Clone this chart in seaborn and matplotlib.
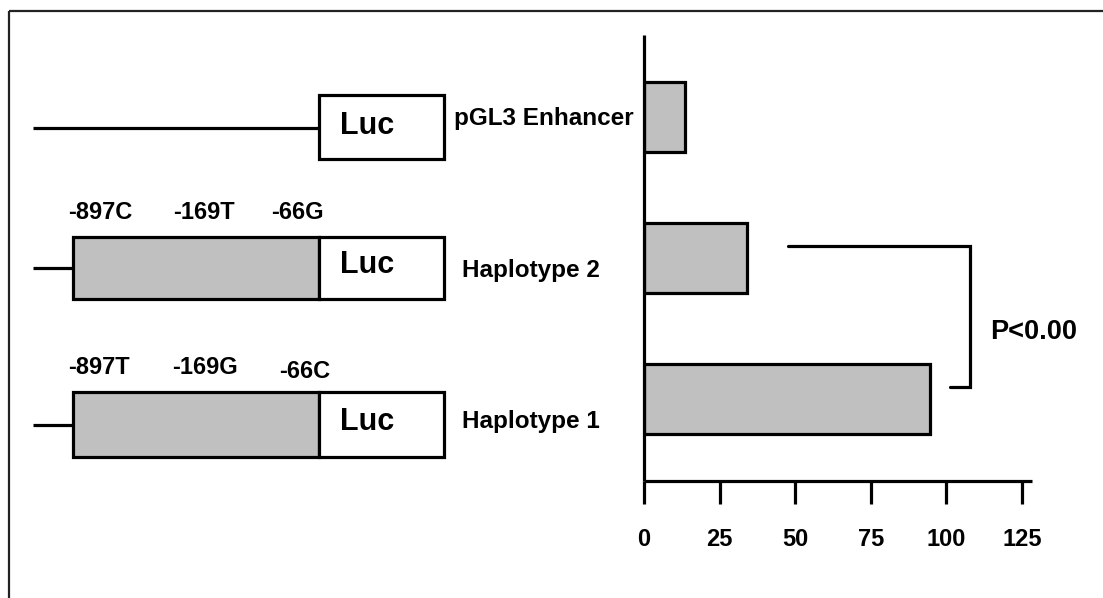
import matplotlib
matplotlib.use("Agg")
import matplotlib.pyplot as plt
from matplotlib.patches import Rectangle
import seaborn as sns
import pandas as pd

# ---- data ----
constructs = ["pGL3 Enhancer", "Haplotype 2", "Haplotype 1"]
activity = [13.6, 33.9, 94.6]
xticks = [0, 25, 50, 75, 100, 125]
hap2_sites = ["-897C", "-169T", "-66G"]
hap1_sites = ["-897T", "-169G", "-66C"]
p_label = "P<0.00"

sns.set_theme(style="white")
plt.rcParams["font.family"] = ["Liberation Sans", "DejaVu Sans"]
plt.rcParams["font.weight"] = "bold"
plt.rcParams["text.color"] = "black"
plt.rcParams["xtick.color"] = "black"
plt.rcParams["xtick.labelcolor"] = "black"
plt.rcParams["axes.labelcolor"] = "black"

W, H = 1103, 598
fig = plt.figure(figsize=(W / 100, H / 100), dpi=100)

# ---- schematic panel (pixel coordinates) ----
dax = fig.add_axes([0, 0, 1, 1])
dax.set_xlim(0, W)
dax.set_ylim(H, 0)
dax.axis("off")

LW = 2.3
# frame (top + left)
dax.plot([9, 9], [H, 11], color="#222222", lw=1.6, solid_capstyle="butt")
dax.plot([9, W], [11, 11], color="#222222", lw=1.6, solid_capstyle="butt")

# pGL3 construct
dax.plot([33, 319], [128, 128], color="black", lw=LW, solid_capstyle="butt")
rows = [(95, 159, False), (237, 299, True), (392, 457, True)]
for top, bot, has_prom in rows:
    if has_prom:
        mid = (top + bot) / 2
        dax.plot([33, 73], [mid, mid], color="black", lw=LW, solid_capstyle="butt")
        dax.add_patch(Rectangle((73, top), 319 - 73, bot - top, facecolor="#c0c0c0",
                                edgecolor="black", lw=LW, zorder=2))
    dax.add_patch(Rectangle((319, top), 444 - 319, bot - top, facecolor="white",
                            edgecolor="black", lw=LW, zorder=3))

tk = dict(fontweight="bold", ha="left", va="baseline", color="black")
for yb in (134, 273, 430):
    dax.text(340, yb, "Luc", fontsize=22, **tk)

dax.text(454, 125, constructs[0], fontsize=17.5, **tk)
dax.text(462, 277, constructs[1], fontsize=17.5, **tk)
dax.text(462, 428, constructs[2], fontsize=17.5, **tk)

for x, s in zip([68, 173, 271], hap2_sites):
    dax.text(x, 219, s, fontsize=17, **tk)
for x, y, s in zip([68, 172, 279], [374, 374, 378], hap1_sites):
    dax.text(x, y, s, fontsize=17, **tk)

# ---- bar chart ----
x0, x1 = 644, 1032
y_top, y_bot = 35, 481
ax = fig.add_axes([x0 / W, (H - y_bot) / H, (x1 - x0) / W, (y_bot - y_top) / H])
ax.patch.set_alpha(0)

df = pd.DataFrame({"construct": constructs, "activity": activity})
sns.barplot(data=df, x="activity", y="construct", orient="h", color="#c0c0c0",
            saturation=1, edgecolor="black", linewidth=2.3, width=0.5, ax=ax)

ax.set_xlim(0, 128.3)
ax.set_ylim(2.58, -0.58)
ax.set_xticks(xticks)
ax.set_xticklabels([str(t) for t in xticks], fontsize=17, fontweight="bold",
                   color="black")
ax.set_yticks([])
ax.set_xlabel("")
ax.set_ylabel("")
ax.tick_params(axis="x", direction="out", length=16.5, width=2.3, color="black",
               pad=17, bottom=True)
for side in ("top", "right"):
    ax.spines[side].set_visible(False)
for side in ("left", "bottom"):
    ax.spines[side].set_linewidth(2.3)
    ax.spines[side].set_color("black")
    ax.spines[side].set_capstyle("butt")

# significance bracket
ax.plot([47.5, 107.8, 107.8, 101.3], [0.915, 0.915, 1.915, 1.915], color="black",
        lw=2.3, clip_on=False, solid_joinstyle="miter")
ax.text(114.5, 1.574, p_label, fontsize=19.5, fontweight="bold", ha="left",
        va="baseline", clip_on=False, color="black")

fig.savefig("out.png", dpi=100)
